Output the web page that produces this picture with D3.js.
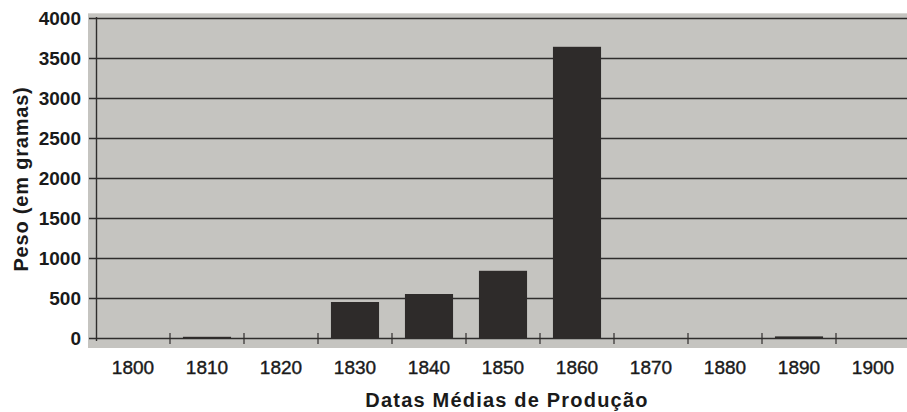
<!DOCTYPE html>
<html><head><meta charset="utf-8">
<script src="https://cdn.jsdelivr.net/npm/d3@7"></script>
<style>body{margin:0;background:#fff}svg{display:block}</style>
</head><body>
<svg id="c" width="907" height="412"></svg>
<script>
const categories = ["1800","1810","1820","1830","1840","1850","1860","1870","1880","1890","1900"];
const values = [0, 15, 0, 450, 550, 840, 3640, 0, 0, 20, 0];
const yTicks = [0,500,1000,1500,2000,2500,3000,3500,4000];
const yTitle = "Peso (em gramas)";
const xTitle = "Datas Médias de Produção";

const svg = d3.select("#c");
const FONT = "Liberation Sans, Arial, sans-serif";
const x = d3.scaleBand().domain(categories).range([96, 910]).paddingInner(0.35).paddingOuter(0.175);
const xb = d3.scaleBand().domain(categories).range([96, 910]);
const y = d3.scaleLinear().domain([0, 4000]).range([338, 18]);

// plot background
svg.append("rect").attr("x", 88).attr("y", 13).attr("width", 907-88).attr("height", 348-13).attr("fill", "#c5c4c0");
svg.append("line").attr("x1", 88).attr("x2", 907).attr("y1", 13.5).attr("y2", 13.5).attr("stroke", "#d8d7d4");

// gridlines
svg.append("g").selectAll("line").data(yTicks).join("line")
  .attr("x1", 89).attr("x2", 907)
  .attr("y1", d => Math.round(y(d)) + 0.5).attr("y2", d => Math.round(y(d)) + 0.5)
  .attr("stroke", "#2f2d2c").attr("stroke-width", 1.4);

// bars
svg.append("g").selectAll("rect").data(values).join("rect")
  .attr("x", (d,i) => x(categories[i]))
  .attr("width", x.bandwidth())
  .attr("y", d => y(d))
  .attr("height", d => y(0) - y(d))
  .attr("fill", "#2e2b2a");

// y axis line
svg.append("line").attr("x1", 96.5).attr("x2", 96.5).attr("y1", 17).attr("y2", 341).attr("stroke", "#2f2d2c").attr("stroke-width", 1.4);

// x ticks at band boundaries
const bounds = categories.slice(1).map(c => xb(c));
svg.append("g").selectAll("line").data(bounds).join("line")
  .attr("x1", d => d).attr("x2", d => d).attr("y1", 333).attr("y2", 344)
  .attr("stroke", "#2f2d2c").attr("stroke-width", 1.2);

// y tick labels
svg.append("g").selectAll("text").data(yTicks).join("text")
  .attr("x", 81).attr("y", d => y(d)).attr("dy", "0.36em")
  .attr("text-anchor", "end")
  .attr("font-family", FONT)
  .attr("font-size", 19).attr("font-weight", "bold").attr("fill", "#1a1a1a")
  .text(d => d);

// x tick labels
svg.append("g").selectAll("text").data(categories).join("text")
  .attr("x", d => xb(d) + xb.bandwidth()/2).attr("y", 374)
  .attr("text-anchor", "middle")
  .attr("font-family", FONT)
  .attr("font-size", 19).attr("fill", "#1a1a1a")
  .attr("stroke", "#1a1a1a").attr("stroke-width", 0.4)
  .text(d => d);

// titles
svg.append("text").attr("x", 507).attr("y", 407).attr("text-anchor", "middle")
  .attr("font-family", FONT).attr("font-size", 20).attr("font-weight", "bold").attr("fill", "#1a1a1a")
  .attr("letter-spacing", 1.2)
  .text(xTitle);
svg.append("text").attr("transform", "translate(28,179) rotate(-90)").attr("text-anchor", "middle")
  .attr("font-family", FONT).attr("font-size", 20).attr("font-weight", "bold").attr("fill", "#1a1a1a")
  .attr("letter-spacing", 0.8)
  .text(yTitle);
</script>
</body></html>
